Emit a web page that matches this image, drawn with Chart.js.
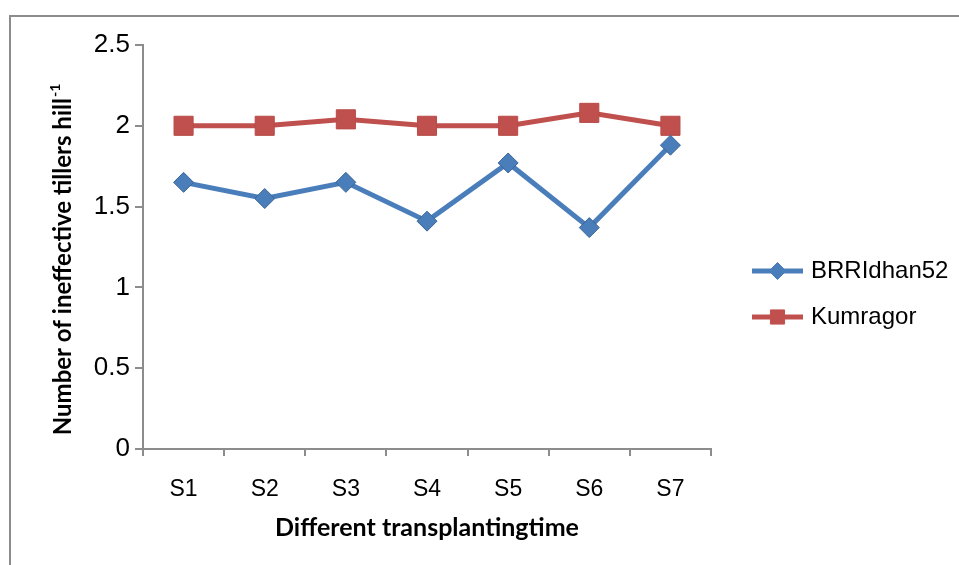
<!DOCTYPE html>
<html>
<head>
<meta charset="utf-8">
<script src="https://cdn.jsdelivr.net/npm/chart.js@4.4.0/dist/chart.umd.min.js"></script>
<style>
  html, body { margin: 0; padding: 0; background: #fff; }
  #wrap { width: 959px; height: 565px; }
</style>
</head>
<body>
<div id="wrap"><canvas id="tillers" width="959" height="565"></canvas></div>
<script>
const categories = ['S1', 'S2', 'S3', 'S4', 'S5', 'S6', 'S7'];
const brriValues = [1.65, 1.55, 1.65, 1.41, 1.77, 1.37, 1.88];
const kumragorValues = [2.0, 2.0, 2.04, 2.0, 2.0, 2.08, 2.0];
const yTicks = [0, 0.5, 1, 1.5, 2, 2.5];

const BLUE = '#4a7ebb';
const RED = '#c0504d';
const AXIS = '#8c8c8c';
const xTickFont = { family: "'Liberation Sans', Arial, sans-serif", size: 23 };
const yTickFont = { family: "'Liberation Sans', Arial, sans-serif", size: 26 };
const titleFont = "bold 24px Lato, 'Open Sans', sans-serif";
const supFont = "bold 14px Lato, 'Open Sans', sans-serif";

// frame, axis titles and the legend on the right
const decorations = {
  id: 'decorations',
  afterDraw(chart) {
    const ctx = chart.ctx;
    const area = chart.chartArea;
    ctx.save();

    ctx.strokeStyle = '#8c8c8c';
    ctx.lineWidth = 2;
    ctx.strokeRect(10, 16, 1000, 600);

    ctx.fillStyle = '#000';
    ctx.textBaseline = 'middle';

    // x title
    ctx.font = "bold 25px Lato, 'Open Sans', sans-serif";
    ctx.textAlign = 'center';
    ctx.fillText('Different transplantingtime', (area.left + area.right) / 2, 528);

    // y title with superscript
    ctx.translate(63, 260);
    ctx.rotate(-Math.PI / 2);
    const main = 'Number of ineffective tillers hill';
    const sup = '-1';
    ctx.font = titleFont;
    const wMain = ctx.measureText(main).width;
    ctx.font = supFont;
    const wSup = ctx.measureText(sup).width;
    const start = -(wMain + wSup) / 2;
    ctx.textAlign = 'left';
    ctx.font = titleFont;
    ctx.fillText(main, start, 0);
    ctx.font = supFont;
    ctx.fillText(sup, start + wMain + 1, -8);
    ctx.setTransform(1, 0, 0, 1, 0, 0);

    // legend
    const items = [
      { label: 'BRRIdhan52', color: BLUE, style: 'rectRot', radius: 8.5, y: 271 },
      { label: 'Kumragor', color: RED, style: 'rect', radius: 10, y: 317 }
    ];
    items.forEach(it => {
      ctx.strokeStyle = it.color;
      ctx.lineWidth = 5;
      ctx.beginPath();
      ctx.moveTo(752, it.y);
      ctx.lineTo(803, it.y);
      ctx.stroke();
      ctx.fillStyle = it.color;
      ctx.strokeStyle = it.color;
      ctx.lineWidth = 1;
      Chart.helpers.drawPoint(ctx, { pointStyle: it.style, radius: it.radius, borderWidth: 1 }, 777.5, it.y);
      ctx.fillStyle = '#000';
      ctx.font = "24px 'Liberation Sans', Arial, sans-serif";
      ctx.textAlign = 'left';
      ctx.fillText(it.label, 811, it.y);
    });

    ctx.restore();
  }
};

new Chart(document.getElementById('tillers'), {
  type: 'line',
  data: {
    labels: categories,
    datasets: [
      {
        label: 'BRRIdhan52',
        data: brriValues,
        borderColor: BLUE,
        backgroundColor: BLUE,
        borderWidth: 5,
        pointStyle: 'rectRot',
        pointRadius: 10,
        pointBackgroundColor: BLUE,
        pointBorderColor: '#3b6593',
        pointBorderWidth: 1,
        tension: 0
      },
      {
        label: 'Kumragor',
        data: kumragorValues,
        borderColor: RED,
        backgroundColor: RED,
        borderWidth: 5,
        pointStyle: 'rect',
        pointRadius: 13.5,
        pointBackgroundColor: RED,
        pointBorderColor: '#b84b48',
        pointBorderWidth: 1,
        tension: 0
      }
    ]
  },
  options: {
    responsive: false,
    devicePixelRatio: 1,
    animation: false,
    layout: { padding: { top: 45, right: 248, left: 0, bottom: 0 } },
    plugins: {
      legend: { display: false },
      tooltip: { enabled: false }
    },
    scales: {
      x: {
        offset: true,
        grid: { offset: true, drawOnChartArea: false, drawTicks: true, tickLength: 7, color: AXIS, lineWidth: 2 },
        border: { color: AXIS, width: 2 },
        ticks: { color: '#000', font: xTickFont, padding: 20 },
        afterFit(scale) { scale.height = 116; }
      },
      y: {
        min: 0,
        max: 2.5,
        afterBuildTicks(scale) { scale.ticks = yTicks.map(v => ({ value: v })); },
        grid: { drawOnChartArea: false, drawTicks: true, tickLength: 8, color: AXIS, lineWidth: 2 },
        border: { color: AXIS, width: 2 },
        ticks: { color: '#000', font: yTickFont, padding: 5, callback: v => String(v) },
        afterFit(scale) { scale.width = 143; }
      }
    }
  },
  plugins: [decorations]
});
</script>
</body>
</html>
